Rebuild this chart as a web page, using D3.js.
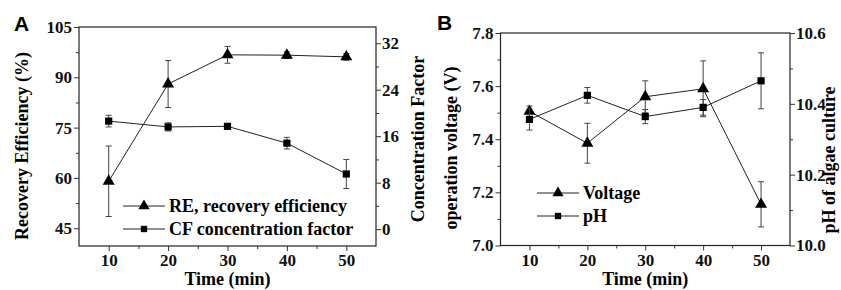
<!DOCTYPE html>
<html>
<head>
<meta charset="utf-8">
<script src="https://cdn.jsdelivr.net/npm/d3@7"></script>
<style>
  body { margin: 0; background: #fff; }
  svg { display: block; }
  text { font-family: "Liberation Serif", "Times New Roman", Times, serif; font-weight: bold; }
  .tick text { font-family: "Liberation Serif", "Times New Roman", Times, serif; font-weight: bold; font-size: 17px; fill: #111; }
  .domain { display: none; }
  .tick line { stroke: #333; stroke-width: 1; }
</style>
</head>
<body>
<div class="figure"></div>
<script>
// Time points shared by both panels
var times = [10, 20, 30, 40, 50];

// Panel A: recovery efficiency (%) and concentration factor
var reValues = [59, 88, 96.7, 96.6, 96.1];
var reErrors = [10.5, 7, 2.5, 1, 1];
var cfValues = [18.6, 17.6, 17.7, 14.8, 9.5];
var cfErrors = [1, 0.7, 0.3, 1, 2.5];

// Panel B: operation voltage (V) and pH of algae culture
var voltValues = [7.505, 7.385, 7.56, 7.59, 7.155];
var voltErrors = [0.02, 0.075, 0.06, 0.105, 0.085];
var phValues = [10.356, 10.424, 10.364, 10.39, 10.465];
var phErrors = [0.03, 0.022, 0.02, 0.022, 0.079];

// Tick labels
var xTicks = [10, 20, 30, 40, 50];
var reTicks = [45, 60, 75, 90, 105];
var cfTicks = [0, 8, 16, 24, 32];
var voltTicks = [7.0, 7.2, 7.4, 7.6, 7.8];
var phTicks = [10.0, 10.2, 10.4, 10.6];

var svgWidth = 841;
var svgHeight = 290;

var svg = d3.select(".figure")
  .append("svg")
  .attr("width", svgWidth)
  .attr("height", svgHeight);

var serif = "'Liberation Serif', 'Times New Roman', Times, serif";
var ink = "#222";

// midpoints between major ticks are the minor ticks
function minors(ticks) {
  var out = [];
  for (var i = 0; i < ticks.length - 1; i++) out.push((ticks[i] + ticks[i + 1]) / 2);
  return out;
}

function markerPath(shape, big) {
  if (shape === "triangle") return d3.symbol().type(d3.symbolTriangle).size(big ? 62 : 55)();
  return d3.symbol().type(d3.symbolSquare).size(big ? 52 : 40)();
}

function drawPanel(p) {
  var g = svg.append("g");
  var x = d3.scaleLinear().domain([5, 55]).range([p.left, p.right]);
  var yL = d3.scaleLinear().domain(p.leftDomain).range([p.bottom, p.top]);
  var yR = d3.scaleLinear().domain(p.rightDomain).range([p.bottom, p.top]);

  // frame
  g.append("rect")
    .attr("x", p.left).attr("y", p.top)
    .attr("width", p.right - p.left).attr("height", p.bottom - p.top)
    .attr("fill", "none").attr("stroke", ink).attr("stroke-width", 1.2);

  // major + minor ticks
  g.append("g").attr("transform", "translate(0," + p.bottom + ")")
    .call(d3.axisBottom(x).tickValues(xTicks).tickSize(5).tickPadding(3));
  g.append("g").attr("transform", "translate(0," + p.bottom + ")")
    .call(d3.axisBottom(x).tickValues([15, 25, 35, 45]).tickSize(3).tickFormat(""));

  g.append("g").attr("transform", "translate(" + p.left + ",0)")
    .call(d3.axisLeft(yL).tickValues(p.leftTicks).tickSize(5).tickPadding(2).tickFormat(p.leftFormat));
  g.append("g").attr("transform", "translate(" + p.left + ",0)")
    .call(d3.axisLeft(yL).tickValues(minors(p.leftTicks)).tickSize(3).tickFormat(""));

  g.append("g").attr("transform", "translate(" + p.right + ",0)")
    .call(d3.axisRight(yR).tickValues(p.rightTicks).tickSize(5).tickPadding(1).tickFormat(p.rightFormat));
  g.append("g").attr("transform", "translate(" + p.right + ",0)")
    .call(d3.axisRight(yR).tickValues(minors(p.rightTicks)).tickSize(3).tickFormat(""));

  // axis titles
  g.append("text")
    .attr("x", (p.left + p.right) / 2).attr("y", 285)
    .attr("text-anchor", "middle")
    .style("font-family", serif).style("font-weight", "bold").style("font-size", "18px")
    .text("Time (min)");
  g.append("text")
    .attr("transform", "translate(" + p.leftTitleX + "," + p.leftTitleY + ") rotate(-90)")
    .attr("text-anchor", "middle")
    .style("font-family", serif).style("font-weight", "bold").style("font-size", "18px")
    .text(p.leftTitle);
  g.append("text")
    .attr("transform", "translate(" + p.rightTitleX + "," + p.rightTitleY + ") rotate(-90)")
    .attr("text-anchor", "middle")
    .style("font-family", serif).style("font-weight", "bold").style("font-size", "18px")
    .text(p.rightTitle);

  // panel letter
  g.append("text")
    .attr("x", p.letterX).attr("y", p.letterY)
    .style("font-family", "'Liberation Sans', Arial, sans-serif")
    .style("font-weight", "bold").style("font-size", "21px")
    .text(p.letter);

  // series
  p.series.forEach(function (s) {
    var y = s.axis === "left" ? yL : yR;
    var pts = times.map(function (t, i) { return { t: t, v: s.values[i], e: s.errors[i] }; });

    g.append("path")
      .datum(pts)
      .attr("fill", "none").attr("stroke", ink).attr("stroke-width", 1)
      .attr("d", d3.line().x(function (d) { return x(d.t); }).y(function (d) { return y(d.v); }));

    var eb = g.selectAll(null).data(pts).enter().append("g").attr("stroke", "#444").attr("stroke-width", 1);
    eb.append("line")
      .attr("x1", function (d) { return x(d.t); }).attr("x2", function (d) { return x(d.t); })
      .attr("y1", function (d) { return y(d.v + d.e); }).attr("y2", function (d) { return y(d.v - d.e); });
    eb.append("line")
      .attr("x1", function (d) { return x(d.t) - 3; }).attr("x2", function (d) { return x(d.t) + 3; })
      .attr("y1", function (d) { return y(d.v + d.e); }).attr("y2", function (d) { return y(d.v + d.e); });
    eb.append("line")
      .attr("x1", function (d) { return x(d.t) - 3; }).attr("x2", function (d) { return x(d.t) + 3; })
      .attr("y1", function (d) { return y(d.v - d.e); }).attr("y2", function (d) { return y(d.v - d.e); });

    g.selectAll(null).data(pts).enter().append("path")
      .attr("transform", function (d) { return "translate(" + x(d.t) + "," + y(d.v) + ")"; })
      .attr("d", markerPath(s.shape, true))
      .attr("fill", "#000");
  });

  // legend
  p.series.forEach(function (s, i) {
    var ly = p.legendY + i * p.legendGap;
    g.append("line")
      .attr("x1", p.legendX).attr("x2", p.legendX + 42)
      .attr("y1", ly).attr("y2", ly)
      .attr("stroke", ink).attr("stroke-width", 1);
    g.append("path")
      .attr("transform", "translate(" + (p.legendX + 21) + "," + ly + ")")
      .attr("d", markerPath(s.shape, false))
      .attr("fill", "#000");
    g.append("text")
      .attr("x", p.legendX + 46).attr("y", ly + 6)
      .style("font-family", serif).style("font-weight", "bold").style("font-size", "18px")
      .text(s.label);
  });
}

drawPanel({
  letter: "A", letterX: 14, letterY: 31,
  left: 79, right: 376, top: 27, bottom: 246,
  leftDomain: [39.7, 105], rightDomain: [-2.9, 34.8],
  leftTicks: reTicks, rightTicks: cfTicks,
  leftFormat: d3.format("d"), rightFormat: d3.format("d"),
  leftTitle: "Recovery Efficiency (%)", leftTitleX: 28, leftTitleY: 146,
  rightTitle: "Concentration Factor", rightTitleX: 424, rightTitleY: 139,
  legendX: 123, legendY: 206, legendGap: 23,
  series: [
    { label: "RE, recovery efficiency", values: reValues, errors: reErrors, axis: "left", shape: "triangle" },
    { label: "CF concentration factor", values: cfValues, errors: cfErrors, axis: "right", shape: "square" }
  ]
});

drawPanel({
  letter: "B", letterX: 437, letterY: 30,
  left: 500.5, right: 790, top: 33, bottom: 245.5,
  leftDomain: [7.0, 7.8], rightDomain: [10.0, 10.6],
  leftTicks: voltTicks, rightTicks: phTicks,
  leftFormat: d3.format(".1f"), rightFormat: d3.format(".1f"),
  leftTitle: "operation voltage (V)", leftTitleX: 457, leftTitleY: 148,
  rightTitle: "pH of algae culture", rightTitleX: 835, rightTitleY: 160,
  legendX: 537, legendY: 193, legendGap: 23,
  series: [
    { label: "Voltage", values: voltValues, errors: voltErrors, axis: "left", shape: "triangle" },
    { label: "pH", values: phValues, errors: phErrors, axis: "right", shape: "square" }
  ]
});
</script>
</body>
</html>
